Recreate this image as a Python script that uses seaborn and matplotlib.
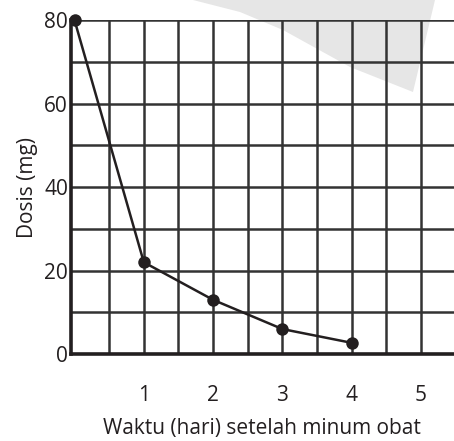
import matplotlib
matplotlib.use("Agg")
import matplotlib.pyplot as plt
from matplotlib.ticker import FixedLocator
from matplotlib.patches import Polygon
import pandas as pd
import seaborn as sns

# data
hari = [0, 1, 2, 3, 4]
dosis = [80, 22, 13, 6, 2.7]
x_ticks = [1, 2, 3, 4, 5]
x_minor = [0.5, 1.5, 2.5, 3.5, 4.5, 5.5]
y_ticks = [0, 20, 40, 60, 80]
y_minor = [10, 30, 50, 70]

df = pd.DataFrame({"hari": hari, "dosis": dosis})

sns.set_style("white")
plt.rcParams["font.family"] = ["Open Sans", "DejaVu Sans"]

ink = "#231f20"
fig = plt.figure(figsize=(4.54, 4.41), dpi=100)

# faint watermark shape behind the chart (figure pixels)
wm = Polygon([(193, 441), (240, 441 - 12), (283, 441 - 30), (350, 441 - 67),
              (413, 441 - 92), (435, 441)], closed=True,
             transform=None, facecolor="#e6e6e6", edgecolor="none", zorder=-10)
fig.patches.append(wm)

ax = fig.add_axes([0.1557, 0.197, 0.8443, 0.7574])
ax.set_facecolor("none")
ax.set_zorder(1)

sns.lineplot(data=df, x="hari", y="dosis", ax=ax, color=ink, linewidth=1.8,
             marker="o", markersize=9, markeredgewidth=0, zorder=5, clip_on=False)

ax.set_xlim(-0.055, 5.475)
ax.set_ylim(0, 80)
ax.set_xticks(x_ticks)
ax.xaxis.set_minor_locator(FixedLocator(x_minor))
ax.set_yticks(y_ticks)
ax.yaxis.set_minor_locator(FixedLocator(y_minor))

ax.grid(True, which="both", color="#333333", linewidth=1.8)
ax.set_axisbelow(True)

for s in ["top", "right"]:
    ax.spines[s].set_visible(False)
for s in ["left", "bottom"]:
    ax.spines[s].set_color(ink)
    ax.spines[s].set_linewidth(2.6)

ax.tick_params(axis="x", which="both", length=0, pad=22, labelsize=15, colors=ink)
ax.tick_params(axis="y", which="both", direction="in", length=19, width=3,
               color=ink, pad=2, labelsize=15, labelcolor=ink)

ax.set_xlabel("Waktu (hari) setelah minum obat", fontsize=15, color=ink, labelpad=9)
ax.set_ylabel("Dosis (mg)", fontsize=15, color=ink, labelpad=4)

fig.savefig("out.png", dpi=100)
